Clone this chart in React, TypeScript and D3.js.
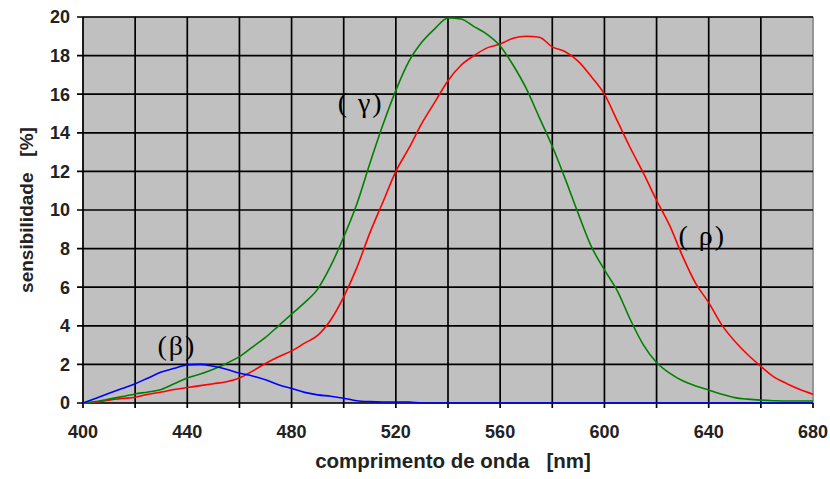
import React from "react";
import * as d3 from "d3";

// wavelength samples [nm]
const wavelengths = [
  400, 405, 410, 415, 420, 425, 430, 435, 440, 445, 450, 455, 460, 465, 470,
  475, 480, 485, 490, 495, 500, 505, 510, 515, 520, 525, 530, 535, 540, 545,
  550, 555, 560, 565, 570, 575, 580, 585, 590, 595, 600, 605, 610, 615, 620,
  625, 630, 635, 640, 645, 650, 655, 660, 665, 670, 675, 680,
];

// sensibilidade [%] — cone (rho), red
const rho = [
  0, 0.05, 0.15, 0.23, 0.3, 0.45, 0.57, 0.7, 0.8, 0.9, 1.0, 1.1, 1.3, 1.65,
  2.05, 2.4, 2.7, 3.1, 3.5, 4.3, 5.5, 7.0, 8.8, 10.4, 12.0, 13.2, 14.5, 15.6,
  16.7, 17.5, 18.0, 18.4, 18.6, 18.9, 19.0, 18.95, 18.45, 18.2, 17.7, 16.9,
  16.0, 14.6, 13.2, 11.9, 10.5, 9.2, 7.6, 6.2, 5.2, 4.05, 3.2, 2.5, 1.9, 1.35,
  1.0, 0.7, 0.45,
];

// cone (gamma), green
const gamma = [
  0, 0.08, 0.2, 0.33, 0.47, 0.57, 0.7, 1.0, 1.3, 1.5, 1.75, 2.05, 2.4, 2.9,
  3.4, 4.0, 4.6, 5.2, 5.9, 7.1, 8.6, 10.3, 12.4, 14.4, 16.2, 17.7, 18.7, 19.4,
  19.95, 19.9, 19.5, 19.1, 18.5, 17.5, 16.3, 14.8, 13.3, 11.6, 9.8, 8.1, 6.9,
  5.8, 4.3, 3.0, 2.1, 1.55, 1.15, 0.88, 0.67, 0.45, 0.28, 0.2, 0.15, 0.12,
  0.1, 0.1, 0.1,
];

// cone (beta), blue
const beta = [
  0, 0.25, 0.5, 0.75, 1.0, 1.3, 1.6, 1.8, 1.97, 2.0, 1.9, 1.75, 1.55, 1.4, 1.2,
  0.95, 0.75, 0.55, 0.42, 0.35, 0.25, 0.12, 0.07, 0.05, 0.05, 0.05, 0, 0, 0, 0,
  0, 0, 0, 0, 0, 0, 0, 0, 0, 0, 0, 0, 0, 0, 0, 0, 0, 0, 0, 0, 0, 0, 0, 0, 0, 0,
  0,
];

const xTicks = [400, 440, 480, 520, 560, 600, 640, 680];
const xGrid = [400, 420, 440, 460, 480, 500, 520, 540, 560, 580, 600, 620, 640, 660, 680];
const yTicks = [0, 2, 4, 6, 8, 10, 12, 14, 16, 18, 20];

const series = [
  { name: "rho", values: rho, color: "#ff0000" },
  { name: "gamma", values: gamma, color: "#008000" },
  { name: "beta", values: beta, color: "#0000ff" },
];

const labels = [
  { text: "( \u03b3)", nm: 506.5, v: 15.1 },
  { text: "( \u03c1)", nm: 637.5, v: 8.2 },
  { text: "(\u03b2)", nm: 436, v: 2.5 },
];

const W = 830;
const H = 479;
const margin = { top: 17, right: 17, bottom: 76, left: 83 };

export default function App() {
  const x = d3
    .scaleLinear()
    .domain([400, 680])
    .range([margin.left, W - margin.right]);
  const y = d3
    .scaleLinear()
    .domain([0, 20])
    .range([H - margin.bottom, margin.top]);

  const line = d3
    .line<number>()
    .x((_, i) => x(wavelengths[i]))
    .y((d) => y(d))
    .curve(d3.curveMonotoneX);

  const font = "'Liberation Sans', Arial, sans-serif";

  return (
    <svg
      width={W}
      height={H}
      style={{ position: "absolute", left: 0, top: 0, background: "#fff" }}
    >
      <rect
        x={x(400)}
        y={y(20)}
        width={x(680) - x(400)}
        height={y(0) - y(20)}
        fill="#c0c0c0"
        stroke="#909090"
      />
      {/* grid + ticks */}
      {xGrid.map((t) => (
        <line
          key={"gx" + t}
          x1={x(t)}
          x2={x(t)}
          y1={y(20)}
          y2={y(0)}
          stroke={t === 680 ? "#909090" : "#000"}
          strokeWidth={1.7}
        />
      ))}
      {xGrid.map((t) => (
        <line
          key={"tx" + t}
          x1={x(t)}
          x2={x(t)}
          y1={y(0)}
          y2={y(0) + 5}
          stroke="#000"
          strokeWidth={1.7}
        />
      ))}
      {yTicks.map((t) => (
        <line
          key={"gy" + t}
          x1={x(400) - 6}
          x2={x(680)}
          y1={y(t)}
          y2={y(t)}
          stroke="#000"
          strokeWidth={1.7}
        />
      ))}

      {/* curves */}
      {series.map((s) => (
        <path
          key={s.name}
          d={line(s.values) || ""}
          fill="none"
          stroke={s.color}
          strokeWidth={1.6}
        />
      ))}

      {/* tick labels */}
      {yTicks.map((t) => (
        <text
          key={"ly" + t}
          x={x(400) - 13}
          y={y(t)}
          dy="0.36em"
          textAnchor="end"
          fontFamily={font}
          fontWeight="bold"
          fontSize={18}
          fill="#222"
        >
          {t}
        </text>
      ))}
      {xTicks.map((t) => (
        <text
          key={"lx" + t}
          x={x(t)}
          y={y(0) + 35}
          textAnchor="middle"
          fontFamily={font}
          fontWeight="bold"
          fontSize={18}
          fill="#222"
        >
          {t}
        </text>
      ))}

      {/* axis titles */}
      <text
        transform={`translate(26,${(y(0) + y(20)) / 2}) rotate(-90)`}
        textAnchor="middle"
        dy="0.35em"
        fontFamily={font}
        fontWeight="bold"
        fontSize={19}
        fill="#222"
        style={{ whiteSpace: "pre" }}
      >
        {"sensibilidade   [%]"}
      </text>
      <text
        x={453}
        y={468}
        textAnchor="middle"
        fontFamily={font}
        fontWeight="bold"
        fontSize={20.5}
        fill="#222"
        style={{ whiteSpace: "pre" }}
      >
        {"comprimento de onda   [nm]"}
      </text>

      {/* curve labels */}
      {labels.map((l) => (
        <text
          key={l.text}
          x={x(l.nm)}
          y={y(l.v)}
          textAnchor="middle"
          fontFamily="'Liberation Serif', 'Times New Roman', serif"
          fontSize={28}
          letterSpacing={2}
          fill="#000"
          style={{ whiteSpace: "pre" }}
        >
          {l.text}
        </text>
      ))}
    </svg>
  );
}
